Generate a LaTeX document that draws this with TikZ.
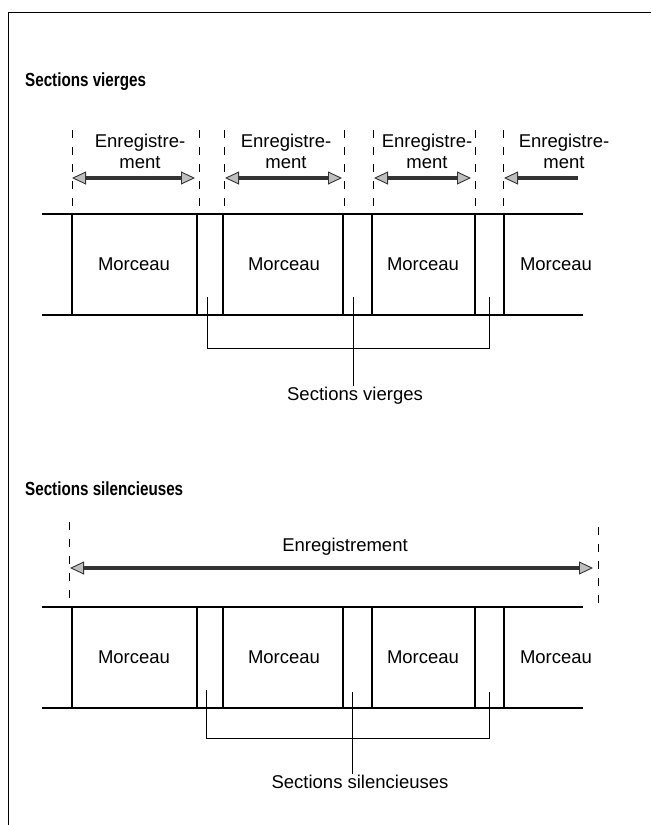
\documentclass[tikz,border=0pt]{standalone}
\usepackage{fontspec}
\setmainfont{Liberation Sans}
\newfontfamily\titrefont[FakeStretch=0.8]{Liberation Sans}
\usetikzlibrary{arrows.meta, positioning}

\begin{document}
\begin{tikzpicture}[x=1pt, y=-1pt,
    track/.style={line width=1.3pt},
    edge/.style={line width=1.6pt},
    guide/.style={line width=1pt, dash pattern=on 8pt off 9pt},
    brace/.style={line width=0.8pt},
    rec/.style={line width=4pt, draw=black!80},
    rectip/.tip={Triangle[length=14pt, width=13pt, line width=0.9pt, fill=gray!50]},
    piece/.style={font=\fontsize{18.5}{21}\selectfont, inner sep=1pt},
    label/.style={font=\fontsize{18.5}{21}\selectfont, align=center, inner sep=1pt},
    titre/.style={font=\titrefont\fontsize{19}{22}\selectfont\bfseries, anchor=west, inner sep=0pt}]

    \useasboundingbox (0,0) rectangle (651,825);

    % =================================================================
    % 1. CADRE ET TITRES
    % =================================================================
    \coordinate (FrameBL) at (8,825);
    \coordinate (FrameTL) at (8,12);
    \coordinate (FrameTR) at (651,12);
    \draw[line width=1pt] (FrameBL) -- (FrameTL) -- (FrameTR);

    \node[titre] (titreV) at (25,82) {Sections vierges};
    \node[titre] (titreS) at (25,489) {Sections silencieuses};

    % =================================================================
    % 2. COORDONNEES DES DEUX BANDES
    % =================================================================
    % Bande du haut (sections vierges)
    \coordinate (VTopL) at (42,214);
    \coordinate (VTopR) at (583,214);
    \coordinate (VBotL) at (42,315);
    \coordinate (VBotR) at (583,315);

    % Bande du bas (sections silencieuses)
    \coordinate (STopL) at (42,607);
    \coordinate (STopR) at (583,607);
    \coordinate (SBotL) at (42,708);
    \coordinate (SBotR) at (583,708);

    % =================================================================
    % 3. BANDES ET MORCEAUX
    % =================================================================
    \draw[track] (VTopL) -- (VTopR);
    \draw[track] (VBotL) -- (VBotR);
    \draw[track] (STopL) -- (STopR);
    \draw[track] (SBotL) -- (SBotR);

    % Limites des morceaux
    \foreach \x in {72,197,223,343,372,475,504} {
        \draw[edge] (\x,214) -- (\x,315);
        \draw[edge] (\x,607) -- (\x,708);
    }

    \node[piece] (mV1) at (134,264) {Morceau};
    \node[piece] (mV2) at (284,264) {Morceau};
    \node[piece] (mV3) at (423,264) {Morceau};
    \node[piece] (mV4) at (556,264) {Morceau};

    \node[piece] (mS1) at (134,657) {Morceau};
    \node[piece] (mS2) at (284,657) {Morceau};
    \node[piece] (mS3) at (423,657) {Morceau};
    \node[piece] (mS4) at (556,657) {Morceau};

    % =================================================================
    % 4. ENREGISTREMENTS (SECTIONS VIERGES)
    % =================================================================
    \foreach \x in {72,199,224,344,373,475,503}
        \draw[guide] (\x,130) -- (\x,210);

    \node[label] (eV1) at (140,151) {Enregistre-\\ment};
    \node[label] (eV2) at (286,151) {Enregistre-\\ment};
    \node[label] (eV3) at (427,151) {Enregistre-\\ment};
    \node[label] (eV4) at (564,151) {Enregistre-\\ment};

    \coordinate (A1L) at (72,178);
    \coordinate (A1R) at (195,178);
    \coordinate (A2L) at (225,178);
    \coordinate (A2R) at (342,178);
    \coordinate (A3L) at (374,178);
    \coordinate (A3R) at (471,178);
    \coordinate (A4L) at (504,178);
    \coordinate (A4R) at (578,178);

    \draw[rec, rectip-rectip] (A1L) -- (A1R);
    \draw[rec, rectip-rectip] (A2L) -- (A2R);
    \draw[rec, rectip-rectip] (A3L) -- (A3R);
    \draw[rec, rectip-] (A4L) -- (A4R);

    % =================================================================
    % 5. ENREGISTREMENT (SECTIONS SILENCIEUSES)
    % =================================================================
    \draw[guide] (69,522) -- (69,600);
    \draw[guide] (598,527) -- (598,607);

    \node[label] (eS) at (345,547) {Enregistrement};

    \coordinate (BL) at (70,568);
    \coordinate (BR) at (593,568);
    \draw[rec, rectip-rectip] (BL) -- (BR);

    % =================================================================
    % 6. ACCOLADES DES INTERVALLES
    % =================================================================
    \coordinate (GV1) at (207,297);
    \coordinate (GV2) at (353,297);
    \coordinate (GV3) at (489,297);
    \coordinate (BV1) at (207,348);
    \coordinate (BV3) at (489,348);
    \node[label] (legV) at (355,396) {Sections vierges};
    \draw[brace] (GV1) -- (BV1) -- (BV3) -- (GV3);
    \draw[brace] (GV2) -- (GV2 |- legV.north);

    \coordinate (GS1) at (206,690);
    \coordinate (GS2) at (352,692);
    \coordinate (GS3) at (489,692);
    \coordinate (BS1) at (206,738);
    \coordinate (BS3) at (489,738);
    \node[label] (legS) at (360,782) {Sections silencieuses};
    \draw[brace] (GS1) -- (BS1) -- (BS3) -- (GS3);
    \draw[brace] (GS2) -- (GS2 |- legS.north);

\end{tikzpicture}
\end{document}
